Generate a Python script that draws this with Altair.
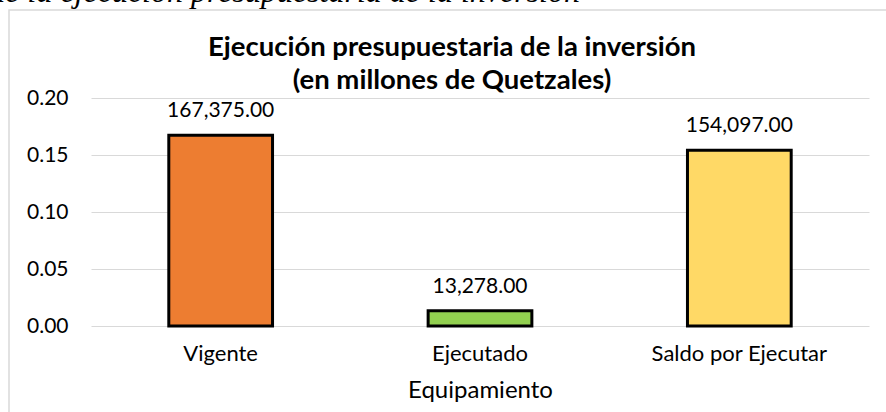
import altair as alt
import pandas as pd

categories = ["Vigente", "Ejecutado", "Saldo por Ejecutar"]
values = [0.167375, 0.013278, 0.154097]
value_labels = ["167,375.00", "13,278.00", "154,097.00"]
colors = ["#ED7D31", "#92D050", "#FFD966"]
y_ticks = [0.0, 0.05, 0.10, 0.15, 0.20]
title_lines = ["Ejecución presupuestaria de la inversión", "(en millones de Quetzales)"]

df = pd.DataFrame({"cat": categories, "val": values, "lbl": value_labels, "col": colors})
one = pd.DataFrame({"a": [0]})

FONT = "Lato"

x_enc = alt.X("cat:N", sort=categories,
              scale=alt.Scale(paddingInner=0.6, paddingOuter=0.3),
              axis=alt.Axis(title="Equipamiento", labelAngle=0, domain=False, ticks=False,
                            labelFontSize=22, titleFontSize=24, labelPadding=17, titlePadding=14,
                            titleFontWeight="normal", labelFont=FONT, titleFont=FONT,
                            labelColor="#000000", titleColor="#000000"))
y_enc = alt.Y("val:Q", scale=alt.Scale(domain=[0, 0.2], nice=False),
              axis=alt.Axis(title=None, values=y_ticks, format=".2f", domain=False, ticks=False,
                            labelFontSize=21, labelPadding=23, labelFont=FONT, labelColor="#000000",
                            gridColor="#d9d9d9", gridWidth=1.2))

frame = alt.Chart(one).mark_rect(filled=False, stroke="#d9d9d9", strokeWidth=1.5).encode(
    x=alt.value(-82), x2=alt.value(900), y=alt.value(-88), y2=alt.value(400))

caption = alt.Chart(one).mark_text(
    text="de la ejecución presupuestaria de la inversión", font="Liberation Serif",
    fontStyle="italic", fontSize=32, align="right", baseline="alphabetic", color="#000000"
).encode(x=alt.value(489), y=alt.value(-96.5))

title1 = alt.Chart(one).mark_text(
    text=title_lines[0], font=FONT, fontSize=27.5, fontWeight="bold", align="center",
    baseline="alphabetic", color="#000000"
).encode(x=alt.value(361), y=alt.value(-42))

title2 = alt.Chart(one).mark_text(
    text=title_lines[1], font=FONT, fontSize=27.5, fontWeight="bold", align="center",
    baseline="alphabetic", color="#000000"
).encode(x=alt.value(361), y=alt.value(-9))

bars = alt.Chart(df).mark_bar(stroke="#000000", strokeWidth=3).encode(
    x=x_enc, y=y_enc, color=alt.Color("col:N", scale=None))

labels = alt.Chart(df).mark_text(font=FONT, fontSize=21, baseline="alphabetic", dy=-18,
                                 color="#000000").encode(
    x=alt.X("cat:N", sort=categories), y="val:Q", text="lbl:N")

chart = alt.layer(frame, caption, title1, title2, bars, labels).properties(
    width=778, height=228,
    autosize=alt.AutoSizeParams(type="none"),
    padding={"left": 91, "top": 98, "right": 17, "bottom": 86},
).configure_view(stroke=None)

chart.save("out.html", embed_options={"renderer": "svg", "actions": False})
